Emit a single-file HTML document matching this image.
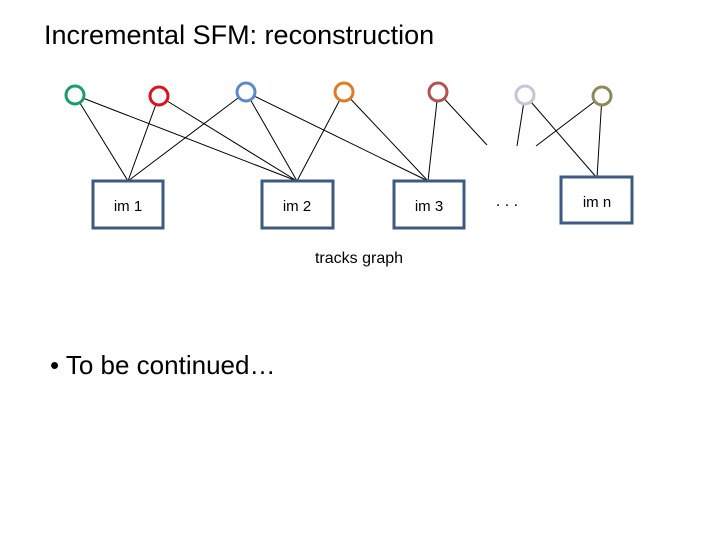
<!DOCTYPE html>
<html><head><style>
body{margin:0;width:720px;height:540px;background:#fff;overflow:hidden;position:relative;font-family:"Liberation Sans",sans-serif}
.t{position:absolute;white-space:nowrap;color:#000}
</style></head><body>
<div class="t" style="left:44px;top:20px;font-size:27px">Incremental SFM: reconstruction</div>
<svg width="720" height="540" style="position:absolute;left:0;top:0">
<g stroke="#000" stroke-width="1" fill="none">
<line x1="75" y1="95" x2="128" y2="181"/><line x1="75" y1="95" x2="297" y2="181"/>
<line x1="159" y1="96" x2="128" y2="181"/><line x1="159" y1="96" x2="297" y2="181"/>
<line x1="246" y1="92" x2="128" y2="181"/><line x1="246" y1="92" x2="297" y2="181"/><line x1="246" y1="92" x2="428" y2="181"/>
<line x1="344" y1="92" x2="297" y2="181"/><line x1="344" y1="92" x2="428" y2="181"/>
<line x1="438" y1="92" x2="428" y2="181"/><line x1="438" y1="92" x2="487" y2="145"/>
<line x1="525" y1="95" x2="517" y2="146"/><line x1="525" y1="95" x2="597" y2="178"/>
<line x1="602" y1="96" x2="536" y2="146"/><line x1="602" y1="96" x2="597" y2="178"/>
</g>
<g fill="#fff" stroke-width="3">
<circle cx="75" cy="95" r="9" stroke="#1f9a6e"/>
<circle cx="159" cy="96" r="9" stroke="#d9141c"/>
<circle cx="246" cy="92" r="9" stroke="#5b8ac8"/>
<circle cx="344" cy="92" r="9" stroke="#e07b25"/>
<circle cx="438" cy="92" r="9" stroke="#b25252"/>
<circle cx="525" cy="95" r="9" stroke="#c8c4d8"/>
<circle cx="602" cy="96" r="9" stroke="#8c8a5a"/>
</g>
<g fill="#fff" stroke="#3d5a80" stroke-width="3">
<rect x="93" y="181" width="70" height="47"/>
<rect x="262" y="181" width="71" height="47"/>
<rect x="394" y="181" width="70" height="47"/>
<rect x="561" y="177" width="71" height="46"/>
</g>
<g font-family="Liberation Sans, sans-serif" font-size="15" text-anchor="middle" fill="#000">
<text x="128" y="211">im 1</text><text x="297" y="211">im 2</text><text x="429" y="211">im 3</text><text x="597" y="207">im n</text>
<text x="507" y="206" font-size="16">. . .</text>
<text x="359" y="263" font-size="16">tracks graph</text>
</g>
</svg>
<div class="t" style="left:50px;top:350px;font-size:26px">• To be continued…</div>
</body></html>
